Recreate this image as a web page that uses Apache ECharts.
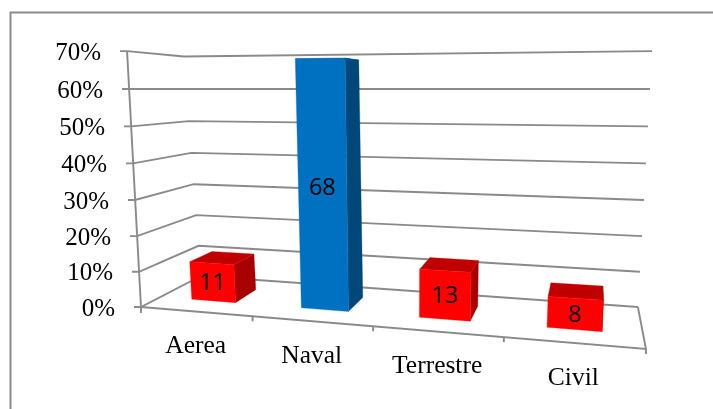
<!DOCTYPE html>
<html><head><meta charset="utf-8">
<style>html,body{margin:0;padding:0;background:#fff}#c{width:713px;height:409px}</style>
<script src="https://cdn.jsdelivr.net/npm/echarts@6/dist/echarts.min.js"></script>
</head><body><div id="c"></div>
<script>
const categories = ['Aerea','Naval','Terrestre','Civil'];
const values = [11,68,13,8];
const tickValues = [0,10,20,30,40,50,60,70];
const tickLabels = ['0%','10%','20%','30%','40%','50%','60%','70%'];
const highlighted = 'Naval';

const AXIS_MAX = 70, LINE = '#8a8a8a';
const SERIF = '"Liberation Serif","Times New Roman",serif';
// Floor plane: perspective map of the unit square (u along categories, d into depth)
const H = {a:408.7,b:90.7,c:141,d:-10,e:11.2,f:307,g:-0.149,h:0.1529};
const HORIZON = 89;
function project(u,d,v){
  const w = 1 + H.g*u + H.h*d;
  const bx = (H.a*u + H.b*d + H.c)/w, by = (H.d*u + H.e*d + H.f)/w;
  const g = v/60*(1 + 0.0006*(v-60));
  const vx = 390 + 50*d, k = 0.056 + 0.015*d;
  return [bx + (bx-vx)*k*v/70, by + (HORIZON-by)*g];
}
// read u and v through the cartesian scales
function scaled(api,params,cat,val){
  const p = api.coord([cat,val]), s = params.coordSys;
  return {u:(p[0]-s.x)/s.width, v:(s.y+s.height-p[1])/s.height*AXIS_MAX};
}
const lineStyle = {stroke:LINE,lineWidth:1.9,fill:null};
function poly(points,fill){return {type:'polygon',shape:{points},style:{fill,stroke:fill,lineWidth:0.3}};}

const option = {
  animation:false,
  backgroundColor:'#fff',
  tooltip:{show:false},
  grid:{left:141,top:51,width:505,height:255},
  xAxis:{type:'category',data:categories,show:false},
  yAxis:{type:'value',min:0,max:AXIS_MAX,interval:10,show:false},
  graphic:[{type:'polyline',silent:true,shape:{points:[[10.5,420],[10.5,12.5],[720,12.5]]},style:{stroke:'#8c8c8c',lineWidth:2,fill:null}}],
  series:[
    { // walls and value ticks
      type:'custom',coordinateSystem:'cartesian2d',silent:true,
      data:tickValues.map((t,i)=>[0,t,tickLabels[i]]),
      encode:{x:0,y:1},
      renderItem(params,api){
        const r = scaled(api,params,0,api.value(1)), v = r.v;
        const a = project(0,0,v), b = project(0,1,v), c = project(1,1,v);
        return {type:'group',children:[
          {type:'polyline',shape:{points:[[a[0]-7,a[1]],a,b,c]},style:lineStyle},
          {type:'text',style:{text:tickLabels[params.dataIndex],x:a[0]-26,y:a[1]+2,align:'right',verticalAlign:'middle',font:'25px '+SERIF,fill:'#000'}}
        ]};
      }
    },
    { // floor front edge, left and right edge, category ticks and labels
      type:'custom',coordinateSystem:'cartesian2d',silent:true,
      data:categories.map((c,i)=>[i,0]),
      encode:{x:0,y:1},
      renderItem(params,api){
        const i = params.dataIndex, n = categories.length, kids = [];
        const cr = scaled(api,params,i,0), half = api.size([1,0])[0]/params.coordSys.width/2;
        const u = cr.u, f = project(u,0,0), e = project(u+half,0,0);
        kids.push({type:'polyline',shape:{points:[e,[e[0],e[1]+5]]},style:lineStyle});
        if(i===0){
          const a = project(0,0,0);
          kids.push({type:'polyline',shape:{points:[a,[a[0],a[1]+6]]},style:lineStyle});
          kids.push({type:'polyline',shape:{points:[project(0,0,AXIS_MAX),a]},style:lineStyle});
        }
        if(i===n-1){
          kids.push({type:'polyline',shape:{points:[project(0,0,0),project(1,0,0),project(1,1,0)]},style:lineStyle});
        }
        kids.push({type:'text',style:{text:categories[i],x:f[0],y:f[1]+35,align:'center',verticalAlign:'middle',font:'25.5px '+SERIF,fill:'#000'}});
        return {type:'group',children:kids};
      }
    },
    { // 3D bars
      type:'custom',coordinateSystem:'cartesian2d',silent:true,
      data:values.map((v,i)=>[i,v]),
      encode:{x:0,y:1},
      renderItem(params,api){
        const i = api.value(0), r = scaled(api,params,i,api.value(1));
        const half = api.size([1,0])[0]/params.coordSys.width*0.204;
        const u1 = r.u-half, u2 = r.u+half, d1 = 0.3, d2 = 0.7, v = r.v;
        const blue = categories[i]===highlighted;
        const front = blue?'#0070C0':'#FF0000', top = blue?'#00548F':'#C00000', side = blue?'#00487A':'#A80000';
        const c = project(r.u,d1,v/2);
        return {type:'group',children:[
          poly([project(u2,d1,0),project(u2,d2,0),project(u2,d2,v),project(u2,d1,v)],side),
          poly([project(u1,d1,v),project(u2,d1,v),project(u2,d2,v),project(u1,d2,v)],top),
          poly([project(u1,d1,0),project(u2,d1,0),project(u2,d1,v),project(u1,d1,v)],front),
          {type:'text',style:{text:String(values[i]),x:c[0],y:c[1]+1.5,align:'center',verticalAlign:'middle',font:'23.5px "Open Sans","Noto Sans",sans-serif',fill:'#000'}}
        ]};
      }
    }
  ]
};
echarts.init(document.getElementById('c'),null,{renderer:'canvas'}).setOption(option);
</script></body></html>
